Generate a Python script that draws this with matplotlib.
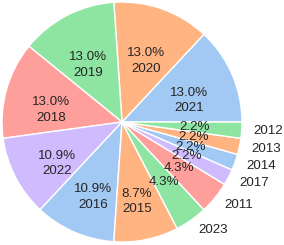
import matplotlib
matplotlib.use("Agg")
import matplotlib.pyplot as plt
import seaborn as sns

# data (counts per year: n = 46)
years = ["2021", "2020", "2019", "2018", "2022", "2016", "2015",
         "2023", "2011", "2017", "2014", "2013", "2012"]
counts = [6, 6, 6, 6, 5, 5, 4, 2, 2, 1, 1, 1, 1]

sns.set_theme(style="white")
plt.rcParams["font.family"] = ["Liberation Sans", "DejaVu Sans"]
text_color = "0.15"

colors = sns.color_palette("pastel", 5)
total = sum(counts)
big = [c / total >= 0.05 for c in counts]

fig = plt.figure(figsize=(2.84, 2.45), dpi=100)
ax = fig.add_axes([2 / 284, 3 / 245, 240 / 284, 240 / 245])

outer_labels = ["" if b else y for y, b in zip(years, big)]

wedges, texts, autotexts = ax.pie(
    counts,
    labels=outer_labels,
    colors=colors,
    startangle=0,
    counterclock=True,
    autopct="%1.1f%%",
    pctdistance=0.61,
    labeldistance=1.1,
    wedgeprops=dict(edgecolor="white", linewidth=1),
    textprops=dict(fontsize=9.6, color=text_color),
)

# big slices carry the year under the percentage
for year, b, at in zip(years, big, autotexts):
    if b:
        ax.annotate(year, xy=at.get_position(), xytext=(0, -11.2),
                    textcoords="offset points", ha="center", va="center",
                    fontsize=9.6, color=text_color)

ax.set_xlim(-1, 1)
ax.set_ylim(-1, 1)

fig.savefig("out.png", dpi=100)
